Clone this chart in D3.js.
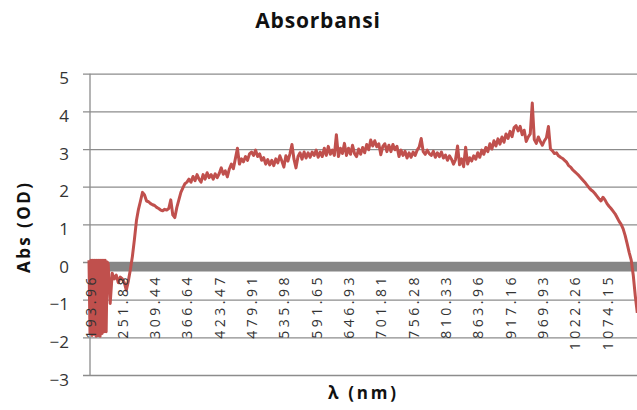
<!DOCTYPE html>
<html>
<head>
<meta charset="utf-8">
<script src="https://cdn.jsdelivr.net/npm/d3@7"></script>
<style>
  body { margin: 0; background: #fff; }
  svg text { font-family: "Open Sans", Lato, "Liberation Sans", sans-serif; }
</style>
</head>
<body>
<svg id="chart" width="637" height="410"></svg>
<script>
// wavelength labels shown on the category axis (every 16th sample)
const waveLabels = ["193.96", "251.88", "309.44", "366.64", "423.47", "479.91", "535.98",
    "591.65", "646.93", "701.81", "756.28", "810.33", "863.96", "917.16", "969.93",
    "1022.26", "1074.15"];
const labelEvery = 16;
const yTicks = [-3, -2, -1, 0, 1, 2, 3, 4, 5];

// absorbance (OD), one value per sample, 16 samples per label step
const absOD = [
    -1.9, 0.05, -1.95, 0.05, -1.85, 0.05, -1.97, 0.05, -1.88, -0.05, -1.1, -0.3, -0.45, -0.35, -0.55, -0.4,
    -0.45, -0.55, -0.75, -0.5, -0.2, 0.15, 0.6, 1.1, 1.4, 1.62, 1.85, 1.78, 1.62, 1.6, 1.55, 1.52,
    1.5, 1.45, 1.42, 1.38, 1.36, 1.4, 1.38, 1.42, 1.65, 1.25, 1.18, 1.45, 1.65, 1.85, 1.97, 2.08,
    2.12, 2.2, 2.12, 2.27, 2.16, 2.32, 2.2, 2.12, 2.32, 2.2, 2.37, 2.24, 2.32, 2.2, 2.34, 2.24,
    2.35, 2.5, 2.33, 2.42, 2.26, 2.47, 2.6, 2.48, 2.75, 3.02, 2.6, 2.74, 2.66, 2.8, 2.7, 2.87,
    2.92, 2.83, 2.97, 2.8, 2.87, 2.7, 2.77, 2.6, 2.72, 2.58, 2.7, 2.56, 2.74, 2.63, 2.82, 2.68,
    2.52, 2.82, 2.68, 2.87, 3.12, 2.73, 2.5, 2.8, 2.9, 2.73, 2.92, 2.76, 2.9, 2.78, 2.92, 2.83,
    2.97, 2.78, 2.92, 2.8, 3.02, 2.83, 3.07, 2.86, 2.97, 2.83, 3.38, 2.8, 3.02, 2.88, 3.15, 2.83,
    3.02, 2.86, 3.1, 2.88, 2.8, 3.0, 2.86, 3.04, 2.9, 3.12, 2.98, 3.24, 3.08, 3.22, 3.06, 3.14,
    2.85, 3.07, 3.14, 2.93, 3.1, 2.93, 3.12, 2.98, 3.07, 2.8, 2.97, 2.83, 2.94, 2.76, 2.9, 2.78,
    2.92, 2.83, 2.97, 3.05, 3.28, 2.93, 2.86, 2.97, 2.88, 2.83, 2.94, 2.78, 2.9, 2.8, 2.92, 2.76,
    2.84, 2.7, 2.82, 2.73, 2.6, 2.72, 3.08, 2.58, 2.74, 2.53, 3.05, 2.6, 2.77, 2.68, 2.82, 2.73,
    2.9, 2.78, 2.97, 2.86, 3.04, 2.93, 3.14, 3.0, 3.22, 3.08, 3.27, 3.13, 3.32, 3.18, 3.4, 3.28,
    3.47, 3.33, 3.57, 3.62, 3.48, 3.6, 3.38, 3.5, 3.2, 3.32, 3.4, 4.22, 3.25, 3.15, 3.32, 3.2,
    3.1, 3.22, 3.3, 3.6, 3.0, 2.95, 2.88, 2.9, 2.82, 2.78, 2.75, 2.7, 2.65, 2.56, 2.52, 2.45,
    2.4, 2.35, 2.3, 2.24, 2.18, 2.12, 2.05, 1.98, 1.92, 1.88, 1.82, 1.75, 1.68, 1.62, 1.72, 1.65,
    1.55, 1.48, 1.42, 1.35, 1.28, 1.18, 1.08, 1.0, 0.88, 0.7, 0.48, 0.25, 0.05, -0.35, -0.9, -1.35
];

// the UV end is very noisy: half-sample readings from sample -0.5 to 8.5
const burstOD = [0.05, -1.9, 0.05, -1.95, 0.05, -1.92, 0.05, -1.97, 0.05, -1.95,
    0.05, -1.97, 0.05, -1.9, 0.05, -1.85, 0.05, -1.85, 0.0];
const burstEnd = 9;

const points = burstOD.map((v, i) => [i / 2 - 0.5, v])
    .concat(absOD.slice(burstEnd).map((v, i) => [i + burstEnd, v]));

const svg = d3.select("#chart");
const plotLeft = 90, plotRight = 637, plotTop = 73.7, plotBottom = 375;

const x = d3.scaleLinear()
    .domain([0, labelEvery * (waveLabels.length - 1)])
    .range([plotLeft, 607]);

const y = d3.scaleLinear()
    .domain([-3, 5])
    .range([plotBottom, plotTop]);

// gridlines + y tick labels
const yAxis = svg.append("g")
    .attr("transform", `translate(83,0)`)
    .call(d3.axisLeft(y).tickValues(yTicks).tickSize(-(plotRight - 83)).tickPadding(14).tickFormat(d3.format("d")));
yAxis.select(".domain").remove();
yAxis.selectAll(".tick line").attr("stroke", "#8c8c8c").attr("stroke-width", 1.3);
yAxis.selectAll(".tick text")
    .attr("dy", "0.6em")
    .style("font-size", "17px")
    .attr("fill", "#333");

// vertical axis line
svg.append("line")
    .attr("x1", plotLeft).attr("x2", plotLeft)
    .attr("y1", plotTop).attr("y2", plotBottom)
    .attr("stroke", "#8c8c8c")
    .attr("stroke-width", 1.3);

// thick horizontal axis at 0
svg.append("rect")
    .attr("x", plotLeft)
    .attr("y", y(0))
    .attr("width", plotRight - plotLeft)
    .attr("height", 9.5)
    .attr("fill", "#868686");

// spectrum line
svg.append("path")
    .datum(points)
    .attr("d", d3.line()
        .x(d => x(d[0]))
        .y(d => y(d[1])))
    .attr("fill", "none")
    .attr("stroke", "#C0504D")
    .attr("stroke-width", 3)
    .attr("stroke-linejoin", "round");

// category labels (drawn over the line, like the original)
const xAxis = svg.append("g")
    .attr("transform", `translate(0,${y(0)})`)
    .call(d3.axisBottom(x)
        .tickValues(waveLabels.map((d, i) => i * labelEvery))
        .tickSize(0)
        .tickFormat((d, i) => waveLabels[i]));
xAxis.select(".domain").remove();
xAxis.selectAll(".tick text")
    .attr("transform", "rotate(-90)")
    .attr("x", -12)
    .attr("y", 0)
    .attr("dy", "0.36em")
    .style("text-anchor", "end")
    .style("font-size", "14px")
    .style("letter-spacing", "3.5px")
    .attr("fill", "#333");

// title
svg.append("text")
    .attr("x", 318)
    .attr("y", 28)
    .attr("text-anchor", "middle")
    .style("font-size", "21px")
    .style("font-weight", "bold")
    .style("letter-spacing", "0.8px")
    .attr("fill", "#111")
    .text("Absorbansi");

// y label
svg.append("text")
    .attr("transform", "translate(30,228) rotate(-90)")
    .attr("text-anchor", "middle")
    .style("font-size", "17px")
    .style("font-weight", "bold")
    .attr("textLength", 90)
    .attr("lengthAdjust", "spacing")
    .attr("fill", "#111")
    .text("Abs (OD)");

// x label
svg.append("text")
    .attr("x", 362)
    .attr("y", 399)
    .attr("text-anchor", "middle")
    .style("font-size", "17px")
    .style("font-weight", "bold")
    .attr("textLength", 68)
    .attr("lengthAdjust", "spacing")
    .attr("fill", "#111")
    .text("λ (nm)");
</script>
</body>
</html>
